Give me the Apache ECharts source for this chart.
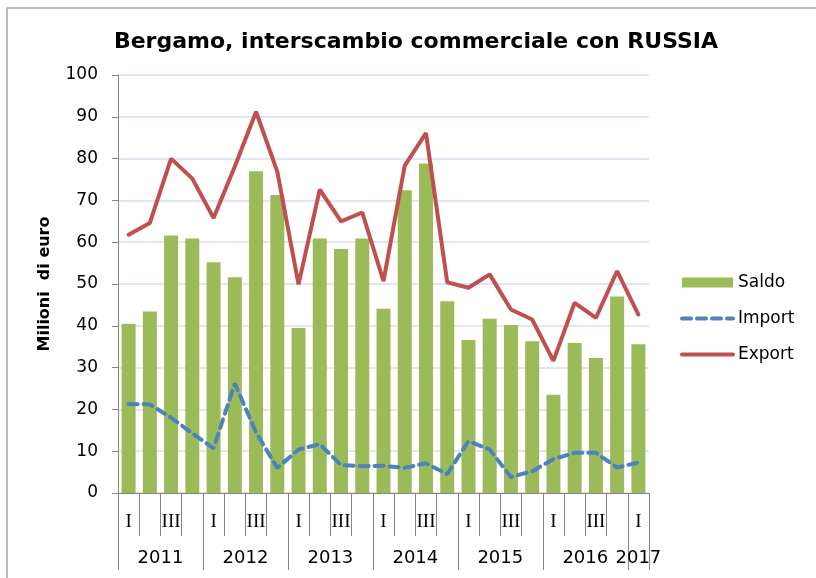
<!DOCTYPE html>
<html>
<head>
<meta charset="utf-8">
<script src="https://cdn.jsdelivr.net/npm/echarts@6/dist/echarts.min.js"></script>
<style>
  html, body { margin: 0; padding: 0; background: #fff; overflow: hidden; }
  #chart { width: 816px; height: 578px; }
</style>
</head>
<body>
<div id="chart"></div>
<script>
// dati trimestrali (milioni di euro)
var years = ['2011', '2012', '2013', '2014', '2015', '2016', '2017'];
var quarterNames = ['I', 'II', 'III', 'IV'];
var quartersPerYear = [4, 4, 4, 4, 4, 4, 1];

var saldo = [40.5, 43.4, 61.6, 60.9, 55.2, 51.6, 77.0, 71.3, 39.5, 60.9, 58.4, 60.9, 44.1,
             72.4, 78.8, 45.9, 36.6, 41.7, 40.2, 36.3, 23.5, 35.9, 32.3, 47.0, 35.6];
var importVal = [21.3, 21.2, 18.0, 14.3, 10.7, 26.2, 14.5, 6.0, 10.4, 11.7, 6.7, 6.4, 6.5,
                 6.0, 7.1, 4.5, 12.4, 10.4, 3.8, 5.2, 8.1, 9.6, 9.6, 6.1, 7.3];
var exportVal = [61.8, 64.6, 80.0, 75.2, 65.8, 78.1, 91.2, 76.9, 49.9, 72.6, 65.0, 67.1, 50.7,
                 78.3, 86.1, 50.4, 49.1, 52.3, 43.9, 41.5, 31.6, 45.5, 41.9, 53.1, 42.7];
var yTicks = [0, 10, 20, 30, 40, 50, 60, 70, 80, 90, 100];

// categorie trimestrali
var categories = [];
quartersPerYear.forEach(function (n) {
  for (var i = 0; i < n; i++) categories.push(quarterNames[i]);
});

// asse degli anni: mezzo-trimestri, etichetta al centro di ogni anno
var nQ = categories.length;
var yearSlots = [];
for (var k = 0; k <= nQ * 2; k++) yearSlots.push('');
var yearTicks = {};
var q = 0;
quartersPerYear.forEach(function (n, i) {
  yearTicks[2 * q] = true;
  yearSlots[2 * q + n] = years[i];
  q += n;
});
yearTicks[2 * q] = true;

var myChart = echarts.init(document.getElementById('chart'));

var option = {
  animation: false,
  title: {
    text: 'Bergamo, interscambio commerciale con RUSSIA',
    left: 411,
    textAlign: 'center',
    top: 26,
    textStyle: { fontFamily: 'DejaVu Sans', fontWeight: 'bold', fontSize: 22, color: '#000' }
  },
  graphic: [{
    type: 'polyline',
    shape: { points: [[7, 578], [7, 8], [816, 8]] },
    style: { fill: null, stroke: '#a6a6a6', lineWidth: 1.5 },
    silent: true
  }],
  legend: {
    orient: 'vertical',
    left: 675,
    top: 269,
    itemGap: 19,
    itemWidth: 51,
    itemHeight: 10,
    textStyle: { fontFamily: 'DejaVu Sans', fontSize: 17, color: '#000' },
    data: [
      { name: 'Saldo', icon: 'rect' },
      { name: 'Import', itemStyle: { opacity: 0 }, lineStyle: { width: 4, type: [9, 6], cap: 'round' } },
      { name: 'Export', itemStyle: { opacity: 0 }, lineStyle: { width: 4, cap: 'round' } }
    ]
  },
  grid: { left: 118, right: 167, top: 75, bottom: 85 },
  xAxis: [{
    type: 'category',
    data: categories,
    position: 'bottom',
    axisLine: { lineStyle: { color: '#868686', width: 1 } },
    axisTick: { show: true, interval: 0, length: 43, lineStyle: { color: '#868686' } },
    axisLabel: {
      interval: 1,
      margin: 20,
      fontFamily: 'Liberation Serif',
      fontSize: 19,
      color: '#000'
    }
  }, {
    type: 'category',
    data: yearSlots,
    position: 'bottom',
    boundaryGap: false,
    axisLine: { show: false },
    axisTick: {
      show: true,
      length: 77,
      interval: function (idx) { return !!yearTicks[idx]; },
      lineStyle: { color: '#868686' }
    },
    axisLabel: {
      interval: 0,
      margin: 56,
      fontFamily: 'DejaVu Sans',
      fontSize: 18,
      color: '#000'
    }
  }],
  yAxis: {
    type: 'value',
    min: yTicks[0],
    max: yTicks[yTicks.length - 1],
    interval: 10,
    name: 'Milioni  di euro',
    nameLocation: 'middle',
    nameGap: 65,
    nameTextStyle: { fontFamily: 'DejaVu Sans', fontWeight: 'bold', fontSize: 16, color: '#000' },
    axisLine: { show: true, lineStyle: { color: '#868686' } },
    axisTick: { show: true, length: 6, lineStyle: { color: '#868686' } },
    axisLabel: { margin: 20, fontFamily: 'DejaVu Sans', fontSize: 17, color: '#000' },
    splitLine: { lineStyle: { color: '#d6dff0', width: 1.5 } }
  },
  series: [{
    name: 'Saldo',
    type: 'bar',
    data: saldo,
    barWidth: 14,
    itemStyle: { color: '#9bbb59' }
  }, {
    name: 'Import',
    type: 'line',
    data: importVal,
    symbol: 'none',
    lineStyle: { color: '#4f81bd', width: 4, type: [9, 6], cap: 'round' },
    itemStyle: { color: '#4f81bd' }
  }, {
    name: 'Export',
    type: 'line',
    data: exportVal,
    symbol: 'none',
    lineStyle: { color: '#c0504d', width: 4, cap: 'round' },
    itemStyle: { color: '#c0504d' }
  }]
};

myChart.setOption(option);
</script>
</body>
</html>
